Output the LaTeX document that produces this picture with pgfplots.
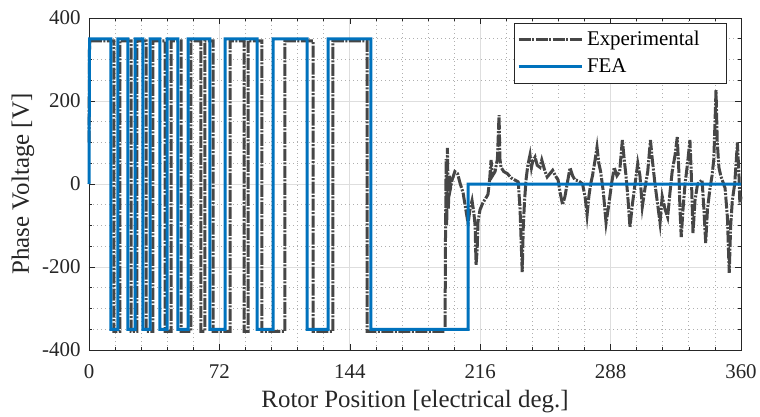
\documentclass[border=0pt]{standalone}
\usepackage{fontspec}
\setmainfont{Liberation Serif}
\usepackage{pgfplots}
\pgfplotsset{compat=1.18}
\definecolor{mblue}{RGB}{0,114,189}
\definecolor{egray}{RGB}{70,70,70}
\definecolor{axc}{RGB}{38,38,38}
\definecolor{gridmaj}{RGB}{222,222,222}
\definecolor{gridmin}{RGB}{175,175,175}
\begin{document}
\begin{tikzpicture}
\useasboundingbox (-89bp,-67bp) rectangle (671bp,350bp);
\begin{axis}[
 at={(0,0)}, anchor=south west,
 scale only axis, width=652bp, height=332bp,
 xmin=0, xmax=360, ymin=-400, ymax=400,
 clip=false,
 xtick={0,72,144,216,288,360}, ytick={-400,-200,0,200,400},
 minor x tick num=4, minor y tick num=3,
 grid=both,
 major grid style={color=gridmaj, line width=0.8bp},
 minor grid style={color=gridmin, line width=0.7bp, dash pattern=on 1bp off 3bp},
 tick align=inside, major tick length=6bp, minor tick length=3bp,
 tick style={axc, line width=0.6bp},
 axis line style={axc, line width=0.8bp},
 tick label style={font=\fontsize{21}{25}\selectfont, text=axc},
 /pgf/number format/assume math mode=true,
 xticklabel style={yshift=-11bp},
 yticklabel style={xshift=-5bp},
 xlabel={Rotor Position [electrical deg.]},
 ylabel={Phase Voltage [V]},
 label style={font=\fontsize{25}{30}\selectfont, text=axc},
 xlabel style={at={(axis description cs:0.5,0)}, anchor=base, yshift=-57bp},
 ylabel style={at={(axis description cs:0,0.5)}, anchor=base, yshift=60bp},
 legend cell align=left,
 legend image code/.code={\draw[#1] (0bp,0bp) -- (63bp,0bp);},
 legend style={at={(1,1)}, anchor=north east, xshift=-14bp, yshift=-5bp,
   draw=axc, line width=0.6bp, font=\fontsize{21}{25}\selectfont,
   inner sep=3bp, row sep=0bp,
   nodes={inner sep=4bp, text height=15bp, text depth=4bp, text=black}},
]
\addplot[egray, line width=3bp, dash pattern=on 12bp off 1.5bp on 2bp off 1.5bp] coordinates {
(0,100)(0.3,345)(13.8,345)(13.8,-355)(17.1,-355)(17.1,345)(23.2,345)(23.2,-355)(26.5,-355)(26.5,345)
(31.5,345)(31.5,-355)(35.3,-355)(35.3,345)(42.0,345)(42.0,-355)(45.3,-355)(45.3,345)(50.8,345)(50.8,-355)
(56.3,-355)(56.3,345)(61.8,345)(61.8,-355)(64.0,-355)(64.0,345)(68.5,345)(68.5,-355)(77.9,-355)(77.9,345)
(85.6,345)(85.6,-355)(87.8,-355)(87.8,345)(95.5,345)(95.5,-355)(108.2,-355)(108.2,345)(123.7,345)(123.7,-355)
(134.7,-355)(134.7,345)(153.5,345)(153.5,-355)(196.6,-355)
(196.8,-150)(197.2,60)(197.5,-100)(197.9,87)(198.4,-60)(199.0,20)(199.6,-10)(200.5,10)(202.0,30)(203.5,25)
(205.0,0)(206.5,-20)(208,-60)(209.3,-95)(210.4,-60)(211.5,-40)(212.5,-70)(213.2,-100)(213.7,-195)(214.3,-160)
(214.8,-90)(215.9,-62)(217.5,-45)(219,-35)(220.3,-25)(221.2,10)(222.0,58)(222.8,20)(224.2,30)(225.5,60)
(226.4,166)(226.9,60)(227.5,40)(229,30)(231,25)(233,15)(235,10)(237,5)(238,-60)(239.2,-212)
(239.8,-100)(240.5,-40)(241.3,10)(242.3,45)(243.5,70)(244.3,40)(245,55)(246.3,65)(247.5,45)(249,40)
(250,58)(251.8,30)(253,17)(254.5,25)(256,33)(257.5,20)(259,10)(260.1,-20)(261.5,-50)(262.8,-30)
(264,0)(265.6,39)(267,20)(268.3,10)(270,8)(271.1,5)(272.5,0)(273.9,-30)(275,-75)(276,-30)
(277,0)(278,20)(279.5,60)(280.5,89)(281.5,50)(282.5,30)(284,-20)(285.5,-94)(287,-50)(288.5,0)
(290,40)(291.5,20)(293,30)(294.5,106)(295.5,60)(296.5,20)(297.5,-30)(298.7,-104)(300,-50)(301.5,0)
(303,50)(304.2,20)(305.5,-55)(307,-10)(308.5,30)(310,106)(311,60)(312.5,0)(314,-50)(315.3,-94)
(316.5,-30)(318,-60)(319.5,-80)(320.8,-20)(322,30)(323.6,70)(324.8,113)(325.6,40)(326.3,-60)(327,-128)
(328,-60)(329.1,0)(330.5,50)(331.8,106)(332.5,30)(333.5,-118)(334.6,-40)(336,0)(337.4,5)(338.5,10)
(339.5,-60)(340.5,-142)(341.5,-60)(342.9,-10)(344,20)(345,60)(346.2,226)(346.9,100)(347.8,40)(348.8,20)
(350,5)(351.2,-10)(352.5,-80)(353.5,-214)(354.3,-100)(355.2,-40)(356.5,0)(357.3,50)(358,100)(358.8,30)
(359.4,-50)(360,-30)
};
\addlegendentry{Experimental\kern20bp}
\addplot[mblue, line width=3bp] coordinates {
(0,0)(0.3,350)(12.1,350)(12.1,-350)(16.0,-350)(16.0,350)(21.5,350)(21.5,-350)(25.4,-350)(25.4,350)
(29.8,350)(29.8,-350)(33.7,-350)(33.7,350)(39.2,350)(39.2,-350)(43.1,-350)(43.1,350)(49.1,350)(49.1,-350)
(54.7,-350)(54.7,350)(66.8,350)(66.8,-350)(75.1,-350)(75.1,350)(92.8,350)(92.8,-350)(101.6,-350)(101.6,350)
(120.4,350)(120.4,-350)(132.0,-350)(132.0,350)(155.7,350)(155.7,-350)(209.3,-350)(209.3,0)(360,0)
};
\addlegendentry{FEA}
\end{axis}
\end{tikzpicture}
\end{document}
